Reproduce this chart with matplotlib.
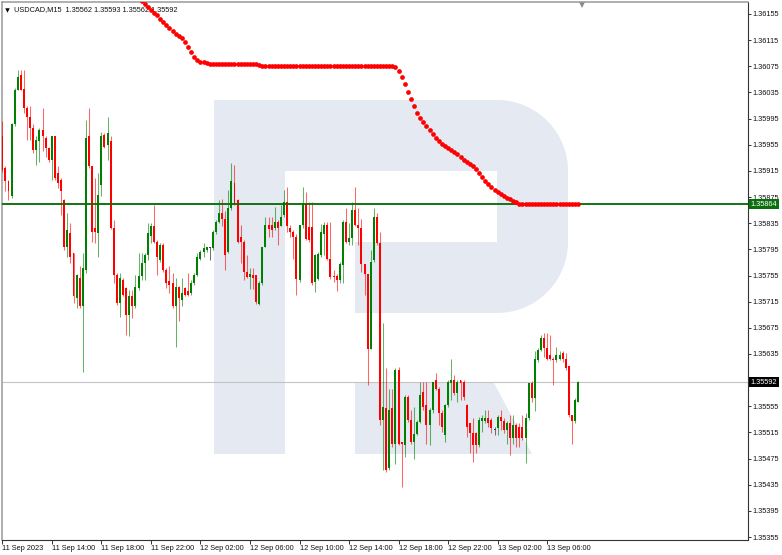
import matplotlib
matplotlib.use("Agg")
import matplotlib.pyplot as plt
from matplotlib.patches import Polygon, Rectangle
from matplotlib.transforms import blended_transform_factory
import numpy as np

plt.rcParams['font.family'] = ['Liberation Sans', 'DejaVu Sans']

# ---------------- data ----------------
chart_title = "USDCAD,M15  1.35562 1.35593 1.35562 1.35592"

opens = [1.35968, 1.35919, 1.35900, 1.35876, 1.35986, 1.36039, 1.36062, 1.36040, 1.36011, 1.35998,
         1.35980, 1.35947, 1.35960, 1.35978, 1.35965, 1.35950, 1.35932, 1.35968, 1.35912, 1.35901,
         1.35871, 1.35799, 1.35820, 1.35789, 1.35720, 1.35751, 1.35708, 1.35764, 1.35968, 1.35922,
         1.35827, 1.35820, 1.35894, 1.35970, 1.35955, 1.35960, 1.35827, 1.35756, 1.35713, 1.35748,
         1.35736, 1.35695, 1.35723, 1.35708, 1.35736, 1.35754, 1.35774, 1.35787, 1.35815, 1.35830,
         1.35807, 1.35779, 1.35802, 1.35764, 1.35746, 1.35743, 1.35708, 1.35738, 1.35718, 1.35736,
         1.35731, 1.35728, 1.35743, 1.35756, 1.35781, 1.35791, 1.35794, 1.35797, 1.35797, 1.35822,
         1.35837, 1.35850, 1.35842, 1.35791, 1.35858, 1.35896, 1.35870, 1.35814, 1.35807, 1.35761,
         1.35753, 1.35756, 1.35756, 1.35712, 1.35743, 1.35799, 1.35832, 1.35832, 1.35827, 1.35837,
         1.35830, 1.35848, 1.35868, 1.35827, 1.35822, 1.35814, 1.35748, 1.35832, 1.35865, 1.35829,
         1.35829, 1.35745, 1.35750, 1.35786, 1.35819, 1.35832, 1.35781, 1.35755, 1.35755, 1.35748,
         1.35771, 1.35837, 1.35807, 1.35812, 1.35855, 1.35832, 1.35827, 1.35773, 1.35758, 1.35643,
         1.35779, 1.35845, 1.35804, 1.35534, 1.35552, 1.35460, 1.35552, 1.35498, 1.35610, 1.35501,
         1.35496, 1.35569, 1.35534, 1.35501, 1.35513, 1.35531, 1.35577, 1.35557, 1.35526, 1.35549,
         1.35595, 1.35582, 1.35544, 1.35511, 1.35557, 1.35590, 1.35595, 1.35575, 1.35595, 1.35592,
         1.35557, 1.35529, 1.35514, 1.35514, 1.35496, 1.35532, 1.35532, 1.35537, 1.35534, 1.35519,
         1.35521, 1.35539, 1.35532, 1.35519, 1.35529, 1.35506, 1.35526, 1.35524, 1.35524, 1.35506,
         1.35537, 1.35590, 1.35567, 1.35626, 1.35641, 1.35659, 1.35644, 1.35634, 1.35628, 1.35626,
         1.35628, 1.35636, 1.35628, 1.35616, 1.35542, 1.35532, 1.35562]
highs = [1.35991, 1.35922, 1.35901, 1.35988, 1.36042, 1.36070, 1.36070, 1.36070, 1.36014, 1.36014,
         1.35986, 1.35968, 1.35980, 1.36011, 1.35968, 1.35952, 1.35969, 1.35969, 1.35923, 1.35904,
         1.35872, 1.35850, 1.35835, 1.35790, 1.35757, 1.35769, 1.35789, 1.35993, 1.36011, 1.35923,
         1.35904, 1.35912, 1.35975, 1.35973, 1.35998, 1.35968, 1.35840, 1.35759, 1.35759, 1.35751,
         1.35738, 1.35733, 1.35733, 1.35756, 1.35789, 1.35789, 1.35789, 1.35835, 1.35835, 1.35863,
         1.35810, 1.35804, 1.35804, 1.35766, 1.35769, 1.35759, 1.35751, 1.35739, 1.35751, 1.35738,
         1.35759, 1.35748, 1.35759, 1.35789, 1.35794, 1.35804, 1.35799, 1.35799, 1.35825, 1.35840,
         1.35870, 1.35872, 1.35853, 1.35886, 1.35927, 1.35924, 1.35872, 1.35832, 1.35809, 1.35786,
         1.35766, 1.35766, 1.35756, 1.35746, 1.35799, 1.35845, 1.35845, 1.35845, 1.35860, 1.35840,
         1.35863, 1.35886, 1.35890, 1.35832, 1.35824, 1.35819, 1.35832, 1.35890, 1.35883, 1.35867,
         1.35867, 1.35788, 1.35791, 1.35834, 1.35837, 1.35837, 1.35837, 1.35763, 1.35758, 1.35776,
         1.35840, 1.35858, 1.35835, 1.35868, 1.35891, 1.35858, 1.35842, 1.35773, 1.35758, 1.35794,
         1.35858, 1.35850, 1.35822, 1.35682, 1.35613, 1.35582, 1.35582, 1.35613, 1.35615, 1.35501,
         1.35572, 1.35572, 1.35549, 1.35554, 1.35534, 1.35592, 1.35592, 1.35592, 1.35552, 1.35592,
         1.35606, 1.35585, 1.35549, 1.35559, 1.35595, 1.35628, 1.35603, 1.35595, 1.35595, 1.35595,
         1.35559, 1.35529, 1.35537, 1.35516, 1.35539, 1.35542, 1.35549, 1.35549, 1.35537, 1.35524,
         1.35542, 1.35549, 1.35537, 1.35532, 1.35542, 1.35542, 1.35529, 1.35529, 1.35542, 1.35544,
         1.35590, 1.35593, 1.35639, 1.35644, 1.35664, 1.35667, 1.35667, 1.35664, 1.35631, 1.35646,
         1.35639, 1.35639, 1.35636, 1.35616, 1.35542, 1.35568, 1.35593]
lows = [1.35914, 1.35884, 1.35871, 1.35873, 1.35983, 1.36038, 1.36038, 1.36003, 1.35963, 1.35963,
        1.35942, 1.35924, 1.35929, 1.35945, 1.35937, 1.35929, 1.35901, 1.35901, 1.35889, 1.35848,
        1.35794, 1.35784, 1.35774, 1.35713, 1.35705, 1.35705, 1.35608, 1.35759, 1.35919, 1.35807,
        1.35804, 1.35784, 1.35876, 1.35950, 1.35932, 1.35826, 1.35743, 1.35710, 1.35692, 1.35723,
        1.35664, 1.35662, 1.35690, 1.35705, 1.35733, 1.35748, 1.35748, 1.35779, 1.35804, 1.35804,
        1.35756, 1.35776, 1.35761, 1.35736, 1.35728, 1.35705, 1.35646, 1.35685, 1.35708, 1.35723,
        1.35723, 1.35725, 1.35741, 1.35754, 1.35779, 1.35784, 1.35791, 1.35779, 1.35794, 1.35819,
        1.35835, 1.35830, 1.35763, 1.35789, 1.35855, 1.35863, 1.35804, 1.35774, 1.35748, 1.35751,
        1.35735, 1.35735, 1.35712, 1.35710, 1.35740, 1.35799, 1.35814, 1.35814, 1.35825, 1.35802,
        1.35830, 1.35845, 1.35822, 1.35814, 1.35781, 1.35725, 1.35745, 1.35827, 1.35809, 1.35806,
        1.35740, 1.35730, 1.35748, 1.35783, 1.35786, 1.35778, 1.35750, 1.35745, 1.35732, 1.35743,
        1.35743, 1.35804, 1.35802, 1.35802, 1.35830, 1.35802, 1.35761, 1.35725, 1.35587, 1.35643,
        1.35776, 1.35802, 1.35526, 1.35457, 1.35455, 1.35457, 1.35493, 1.35467, 1.35496, 1.35432,
        1.35478, 1.35531, 1.35498, 1.35475, 1.35511, 1.35529, 1.35549, 1.35498, 1.35496, 1.35544,
        1.35580, 1.35526, 1.35516, 1.35501, 1.35554, 1.35564, 1.35572, 1.35562, 1.35564, 1.35564,
        1.35508, 1.35483, 1.35470, 1.35483, 1.35493, 1.35516, 1.35529, 1.35524, 1.35514, 1.35511,
        1.35511, 1.35519, 1.35514, 1.35498, 1.35481, 1.35498, 1.35493, 1.35493, 1.35503, 1.35468,
        1.35534, 1.35562, 1.35547, 1.35623, 1.35639, 1.35631, 1.35626, 1.35626, 1.35588, 1.35623,
        1.35626, 1.35623, 1.35611, 1.35539, 1.35498, 1.35529, 1.35562]
closes = [1.35917, 1.35899, 1.35885, 1.35986, 1.36039, 1.36059, 1.36039, 1.36011, 1.35998, 1.35980,
          1.35947, 1.35963, 1.35978, 1.35968, 1.35950, 1.35932, 1.35968, 1.35904, 1.35896, 1.35884,
          1.35799, 1.35825, 1.35784, 1.35723, 1.35756, 1.35708, 1.35766, 1.35965, 1.35922, 1.35822,
          1.35822, 1.35878, 1.35968, 1.35952, 1.35973, 1.35827, 1.35756, 1.35713, 1.35751, 1.35725,
          1.35695, 1.35723, 1.35708, 1.35738, 1.35754, 1.35774, 1.35787, 1.35820, 1.35830, 1.35807,
          1.35784, 1.35802, 1.35764, 1.35743, 1.35741, 1.35708, 1.35738, 1.35720, 1.35728, 1.35725,
          1.35725, 1.35743, 1.35756, 1.35784, 1.35791, 1.35797, 1.35798, 1.35797, 1.35822, 1.35837,
          1.35851, 1.35842, 1.35786, 1.35858, 1.35899, 1.35865, 1.35807, 1.35807, 1.35761, 1.35753,
          1.35758, 1.35751, 1.35715, 1.35743, 1.35799, 1.35832, 1.35826, 1.35825, 1.35837, 1.35827,
          1.35845, 1.35868, 1.35830, 1.35822, 1.35814, 1.35750, 1.35832, 1.35865, 1.35811, 1.35809,
          1.35743, 1.35786, 1.35788, 1.35822, 1.35832, 1.35781, 1.35753, 1.35753, 1.35748, 1.35773,
          1.35837, 1.35807, 1.35812, 1.35855, 1.35832, 1.35827, 1.35773, 1.35758, 1.35643, 1.35776,
          1.35845, 1.35804, 1.35534, 1.35554, 1.35457, 1.35549, 1.35498, 1.35610, 1.35498, 1.35498,
          1.35569, 1.35534, 1.35501, 1.35513, 1.35531, 1.35572, 1.35554, 1.35526, 1.35549, 1.35592,
          1.35582, 1.35544, 1.35524, 1.35557, 1.35592, 1.35595, 1.35575, 1.35592, 1.35590, 1.35569,
          1.35524, 1.35514, 1.35496, 1.35496, 1.35534, 1.35537, 1.35537, 1.35529, 1.35521, 1.35519,
          1.35539, 1.35532, 1.35519, 1.35529, 1.35506, 1.35526, 1.35506, 1.35506, 1.35506, 1.35537,
          1.35590, 1.35567, 1.35628, 1.35641, 1.35659, 1.35644, 1.35628, 1.35628, 1.35626, 1.35634,
          1.35634, 1.35628, 1.35613, 1.35542, 1.35532, 1.35565, 1.35592]

# dotted indicator (one value per bar, starting at bar ma_first_bar)
ma_first_bar = 44
ma_values = [1.36180, 1.36175, 1.36170, 1.36166, 1.36161, 1.36157, 1.36153, 1.36148, 1.36143, 1.36138,
             1.36134, 1.36129, 1.36125, 1.36122, 1.36118, 1.36112, 1.36105, 1.36097, 1.36089, 1.36085,
             1.36082, 1.36081, 1.36080, 1.36079, 1.36078, 1.36078, 1.36078, 1.36078, 1.36078, 1.36078,
             1.36078, 1.36078, 1.36078, 1.36078, 1.36078, 1.36078, 1.36078, 1.36078, 1.36078, 1.36077,
             1.36076, 1.36076, 1.36076, 1.36076, 1.36076, 1.36076, 1.36076, 1.36076, 1.36076, 1.36076,
             1.36076, 1.36076, 1.36076, 1.36076, 1.36076, 1.36076, 1.36076, 1.36076, 1.36076, 1.36076,
             1.36076, 1.36076, 1.36076, 1.36076, 1.36076, 1.36076, 1.36075, 1.36075, 1.36075, 1.36075,
             1.36075, 1.36075, 1.36075, 1.36075, 1.36075, 1.36075, 1.36075, 1.36075, 1.36075, 1.36075,
             1.36075, 1.36075, 1.36075, 1.36074, 1.36068, 1.36059, 1.36048, 1.36036, 1.36025, 1.36014,
             1.36003, 1.35996, 1.35990, 1.35984, 1.35977, 1.35971, 1.35965, 1.35961, 1.35956, 1.35953,
             1.35950, 1.35947, 1.35944, 1.35941, 1.35936, 1.35932, 1.35929, 1.35926, 1.35922, 1.35918,
             1.35912, 1.35906, 1.35899, 1.35895, 1.35890, 1.35886, 1.35883, 1.35880, 1.35877, 1.35874,
             1.35872, 1.35869, 1.35867, 1.35865, 1.35864, 1.35864, 1.35864, 1.35864, 1.35864, 1.35864,
             1.35864, 1.35864, 1.35864, 1.35864, 1.35864, 1.35864, 1.35864, 1.35864, 1.35864, 1.35864,
             1.35864, 1.35864, 1.35864]

level_price = 1.35864
bid_price = 1.35592

price_ticks = [1.36155, 1.36115, 1.36075, 1.36035, 1.35995, 1.35955, 1.35915, 1.35875, 1.35835,
               1.35795, 1.35755, 1.35715, 1.35675, 1.35635, 1.35595, 1.35555, 1.35515, 1.35475,
               1.35435, 1.35395, 1.35355]
price_tick_labels = ["1.36155", "1.36115", "1.36075", "1.36035", "1.35995", "1.35955", "1.35915",
                     "1.35875", "1.35835", "1.35795", "1.35755", "1.35715", "1.35675", "1.35635",
                     "", "1.35555", "1.35515", "1.35475", "1.35435", "1.35395", "1.35355"]

time_tick_bars = [0, 16, 32, 48, 64, 80, 96, 112, 128, 144, 160, 176]
time_tick_labels = ["11 Sep 2023", "11 Sep 14:00", "11 Sep 18:00", "11 Sep 22:00",
                    "12 Sep 02:00", "12 Sep 06:00", "12 Sep 10:00", "12 Sep 14:00",
                    "12 Sep 18:00", "12 Sep 22:00", "13 Sep 02:00", "13 Sep 06:00"]

# ---------------- figure ----------------
W, H = 782, 555
fig = plt.figure(figsize=(W / 100, H / 100), dpi=100, facecolor='white')

# background layer in pixel coordinates (watermark + small markers)
bg = fig.add_axes([0, 0, 1, 1], zorder=0)
bg.set_xlim(0, W)
bg.set_ylim(H, 0)
bg.axis('off')
wm = '#e4e9f2'
bg.add_patch(Rectangle((214, 100), 71, 354, facecolor=wm, edgecolor='none'))
t1 = np.linspace(-np.pi / 2, 0, 24)
t2 = np.linspace(0, np.pi / 2, 24)
bowl = ([(285, 100), (497, 100)]
        + [(497 + 71 * np.cos(t), 171 + 71 * np.sin(t)) for t in t1]
        + [(568, 242)]
        + [(497 + 71 * np.cos(t), 242 + 71 * np.sin(t)) for t in t2]
        + [(355, 313), (355, 242), (497, 242), (497, 171), (285, 171)])
bg.add_patch(Polygon(bowl, closed=True, facecolor=wm, edgecolor='none'))
bg.add_patch(Polygon([(355, 383), (494, 383), (532, 454), (355, 454)], closed=True,
                     facecolor=wm, edgecolor='none'))
bg.plot([6.5], [9.5], marker='v', color='black', ms=3.2, mew=0)
bg.plot([581.7], [4.5], marker='v', color='#8a8a8a', ms=4, mew=0)

# main chart axes
ax = fig.add_axes([1.5 / W, 1 - 539.5 / H, 746 / W, 538 / H], zorder=1)
ax.set_facecolor('none')
ax.set_xlim(-0.258, 240.70)
ax.set_ylim(1.353512, 1.361741)

o = np.array(opens)
h = np.array(highs)
l = np.array(lows)
c = np.array(closes)
idx = np.arange(len(o))
up = c > o
dn = c < o
dj = c == o

bull = '#008000'
bear = '#ff0000'
ax.vlines(idx[up], l[up], h[up], color=bull, lw=0.75, alpha=0.6, zorder=3)
ax.vlines(idx[dn], l[dn], h[dn], color=bear, lw=0.75, alpha=0.6, zorder=3)
ax.vlines(idx[dj], l[dj], h[dj], color='#505050', lw=0.75, alpha=0.8, zorder=3)

minh = 0.000016
bh = np.maximum(np.abs(c - o), minh)
bb = np.minimum(o, c)
ax.bar(idx[up], bh[up], bottom=bb[up], width=0.64, color=bull, linewidth=0, zorder=4)
ax.bar(idx[dn], bh[dn], bottom=bb[dn], width=0.64, color=bear, linewidth=0, zorder=4)
ax.bar(idx[dj], bh[dj], bottom=bb[dj], width=0.64, color='#404040', linewidth=0, zorder=4)

ax.axhline(bid_price, color='#c4c4c4', lw=0.8, zorder=2)
ax.axhline(level_price, color='#0a6e0a', lw=1.35, zorder=5)

ma_x = np.arange(ma_first_bar, ma_first_bar + len(ma_values))
ax.plot(ma_x, ma_values, linestyle='none', marker='o', ms=3.4, mew=0, color='#ff0000', zorder=6)

# axes styling
ax.yaxis.tick_right()
ax.set_yticks(price_ticks)
ax.set_yticklabels(price_tick_labels)
ax.tick_params(axis='y', direction='out', length=2.2, width=0.6, pad=1.3, labelsize=5.3,
               colors='#111111')
ax.set_xticks(time_tick_bars)
ax.set_xticklabels(time_tick_labels, ha='left')
ax.tick_params(axis='x', direction='out', length=3.0, width=0.6, pad=0.8, labelsize=5.3,
               colors='#111111')
for s in ['left', 'top']:
    ax.spines[s].set_color('#9a9a9a')
    ax.spines[s].set_linewidth(1.1)
for s in ['right', 'bottom']:
    ax.spines[s].set_color('#333333')
    ax.spines[s].set_linewidth(0.8)

tr = blended_transform_factory(ax.transAxes, ax.transData)
for price, fc in [(level_price, '#0a6e0a'), (bid_price, '#000000')]:
    ax.text(1.0045, price, f"{price:.5f}", transform=tr, ha='left', va='center', fontsize=5.3,
            color='white', bbox=dict(boxstyle='square,pad=0.22', fc=fc, ec='none'),
            clip_on=False, zorder=10)

ax.text(14 / W, 1 - 9.5 / H, chart_title, transform=fig.transFigure, ha='left', va='center',
        fontsize=5.3, color='#111111', zorder=5.5)

fig.savefig('out.png', dpi=100, facecolor='white')
